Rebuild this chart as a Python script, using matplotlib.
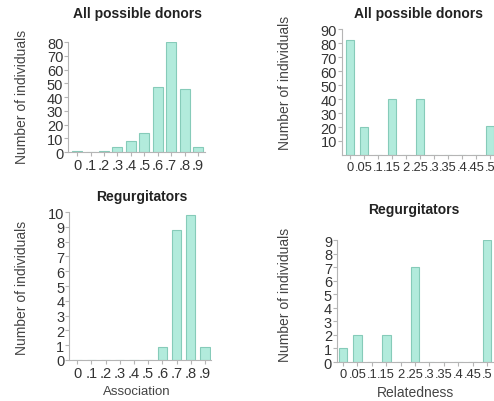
import matplotlib.pyplot as plt
import numpy as np

plt.rcParams['font.family'] = ['Liberation Sans', 'DejaVu Sans']

# association histograms
assoc_bins = [0, .1, .2, .3, .4, .5, .6, .7, .8, .9]
assoc_labels = ['0', '.1', '.2', '.3', '.4', '.5', '.6', '.7', '.8', '.9']
assoc_all = [1, 0, 1, 4, 8, 14, 47, 80, 46, 4]
assoc_regurg = [0, 0, 0, 0, 0, 0, 0.9, 8.8, 9.8, 0.9]

# relatedness histograms
rel_bins = [0, .05, .1, .15, .2, .25, .3, .35, .4, .45, .5]
rel_labels = ['0', '.05', '.1', '.15', '2', '.25', '.3', '.35', '.4', '.45', '.5']
rel_all = [82, 20, 0, 40, 0, 40, 0, 0, 0, 0, 21]
rel_regurg = [1, 2, 0, 2, 0, 7, 0, 0, 0, 0, 9]

face = '#b2ebdc'
edge = '#86cbb9'
grey = '#b5b5b5'

fig = plt.figure(figsize=(4.94, 4.02), dpi=100)


def panel(rect, x, y, labels, width, xlim, ylim, yticks, xfs=10.5):
    ax = fig.add_axes(rect)
    ax.bar(x, y, width=width, color=face, edgecolor=edge, linewidth=0.8)
    ax.set_xlim(*xlim)
    ax.set_ylim(*ylim)
    ax.set_xticks(x)
    ax.set_xticklabels(labels, fontsize=xfs)
    ax.set_yticks(yticks)
    ax.set_yticklabels([str(t) for t in yticks], fontsize=10.5)
    for s in ['top', 'right']:
        ax.spines[s].set_visible(False)
    for s in ['left', 'bottom']:
        ax.spines[s].set_color(grey)
        ax.spines[s].set_linewidth(0.8)
    ax.tick_params(colors=grey, labelcolor='#333333', length=3, width=0.8, pad=1)
    ax.tick_params(axis='y', pad=0.5)
    return ax


panel([0.138, 0.619, 0.277, 0.274], assoc_bins, assoc_all, assoc_labels,
      0.075, (-0.067, 0.952), (0, 80), list(range(0, 90, 10)))
panel([0.692, 0.612, 0.308, 0.313], rel_bins, rel_all, rel_labels,
      0.031, (-0.029, 0.514), (0, 90), list(range(10, 100, 10)), xfs=9.3)
panel([0.140, 0.102, 0.287, 0.368], assoc_bins, assoc_regurg, assoc_labels,
      0.065, (-0.056, 0.942), (0, 10), list(range(0, 11)))
panel([0.682, 0.097, 0.318, 0.303], rel_bins, rel_regurg, rel_labels,
      0.03, (-0.021, 0.524), (0, 9), list(range(0, 10)), xfs=9.3)

W, H = 494, 402


def ftext(px, py, s, **kw):
    fig.text(px / W, 1 - py / H, s, ha='center', va='center', **kw)


for px, py, s in [(137, 14, 'All possible donors'), (419, 14, 'All possible donors'),
                  (142, 197, 'Regurgitators'), (414, 210, 'Regurgitators')]:
    ftext(px, py, s, fontsize=10, fontweight='bold', color='#222222')

for px, py in [(22, 97), (285, 83), (22, 288), (285, 295)]:
    ftext(px, py, 'Number of individuals', fontsize=10, rotation=90, color='#444444')

ftext(137, 392, 'Association', fontsize=9.5, color='#444444')
ftext(415, 393, 'Relatedness', fontsize=10, color='#444444')

fig.savefig('out.png', dpi=100)
